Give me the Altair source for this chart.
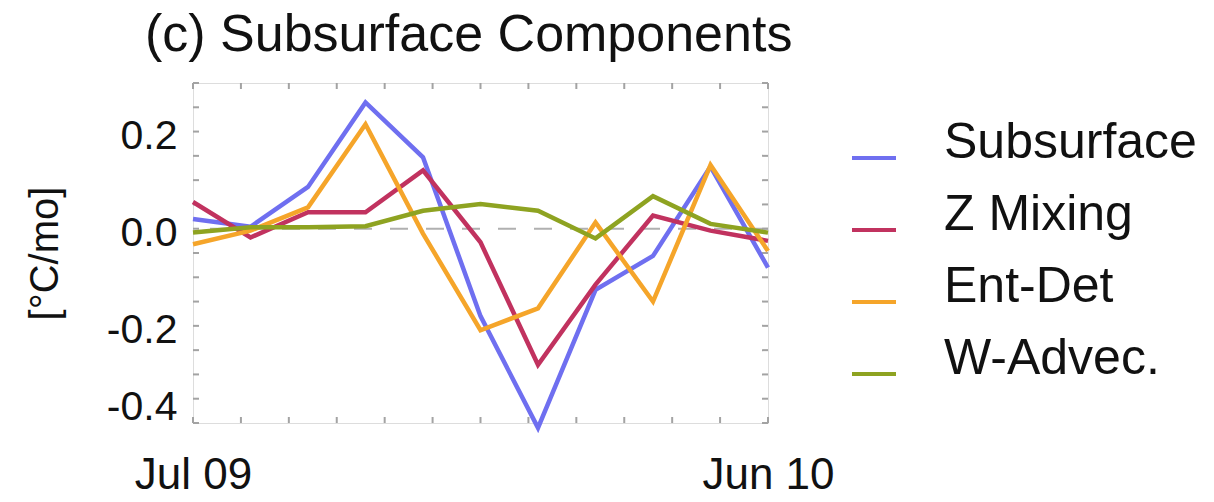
import altair as alt
import pandas as pd

# ---- data ----
step = list(range(11))  # 11 samples, Jul 09 ... Jun 10
subsurface = [0.02, 0.004, 0.086, 0.26, 0.147, -0.18, -0.41, -0.126, -0.056, 0.128, -0.08]
z_mixing = [0.055, -0.018, 0.034, 0.034, 0.12, -0.028, -0.28, -0.115, 0.027, -0.004, -0.025]
ent_det = [-0.032, -0.004, 0.044, 0.215, -0.01, -0.209, -0.164, 0.013, -0.15, 0.131, -0.046]
w_advec = [-0.008, 0.003, 0.003, 0.005, 0.037, 0.051, 0.037, -0.02, 0.067, 0.01, -0.008]

series_names = ["Subsurface", "Z Mixing", "Ent-Det", "W-Advec."]
series_colors = ["#6f6ff0", "#c1325f", "#f5a52a", "#8ea321"]
y_tick_labels = [-0.4, -0.2, 0.0, 0.2]
y_minor = [-0.4, -0.35, -0.3, -0.25, -0.2, -0.15, -0.1, -0.05, 0.0, 0.05, 0.1, 0.15, 0.2, 0.25, 0.3]
x_minor = [i * 10 / 12 for i in range(13)]

rows = []
for name, vals in zip(series_names, [subsurface, z_mixing, ent_det, w_advec]):
    for i, v in zip(step, vals):
        rows.append({"step": i, "value": v, "series": name, "order": series_names.index(name)})
df = pd.DataFrame(rows)

W, H = 575, 340
FONT = "Liberation Sans"
FRAME = "#a3a3a3"

xscale = alt.Scale(domain=[0, 10], nice=False, zero=False)
yscale = alt.Scale(domain=[-0.4, 0.3], nice=False, zero=False)

label_expr = "datum.value == 0 ? 'Jul 09' : 'Jun 10'"
xaxis = alt.Axis(
    values=[0, 10], labelExpr=label_expr, grid=False, ticks=False, domain=False,
    labelFontSize=44, labelPadding=30, labelFlush=False, title=None,
    labelFont=FONT, labelColor="#111",
)
yaxis = alt.Axis(
    values=y_tick_labels,
    labelExpr="replace(format(datum.value, '.1f'), '\u2212', '-')",
    grid=False, ticks=False, domain=False, labelFlush=True,
    labelFontSize=41, labelPadding=16, labelFont=FONT, labelColor="#111",
    labelOffset=5,
    title="[°C/mo]", titleFontSize=40, titleFont=FONT, titleFontWeight="normal",
    titleColor="#111", titleX=-148, titleY=170, titleAngle=-90,
    titleBaseline="middle", titleAlign="center",
)

zero = alt.Chart(pd.DataFrame({"z": [0.0]})).mark_rule(
    color="#b0b0b0", strokeWidth=2, strokeDash=[18, 18]
).encode(y=alt.Y("z:Q", scale=yscale, axis=yaxis))

lines = alt.Chart(df).mark_line(strokeWidth=4.5).encode(
    x=alt.X("step:Q", scale=xscale, axis=xaxis),
    y=alt.Y("value:Q", scale=yscale, axis=yaxis),
    color=alt.Color(
        "series:N",
        scale=alt.Scale(domain=series_names, range=series_colors),
        legend=alt.Legend(
            title=None, orient="none", legendX=656, legendY=50,
            symbolType="stroke", symbolSize=1936, symbolStrokeWidth=4,
            labelFontSize=50, labelFont=FONT, labelColor="#111", labelLimit=0,
            labelOffset=45, rowPadding=22, labelBaseline="alphabetic", padding=0,
        ),
    ),
    order=alt.Order("order:Q"),
    detail="series:N",
)

xt = pd.DataFrame({"step": x_minor})
yt = pd.DataFrame({"value": y_minor})
tick_style = dict(color=FRAME, strokeWidth=2)
xb = alt.Chart(xt).mark_rule(**tick_style).encode(
    x=alt.X("step:Q", scale=xscale, axis=xaxis), y=alt.value(H), y2=alt.value(H - 6))
xtop = alt.Chart(xt).mark_rule(**tick_style).encode(
    x=alt.X("step:Q", scale=xscale, axis=xaxis), y=alt.value(0), y2=alt.value(6))
yl = alt.Chart(yt).mark_rule(**tick_style).encode(
    y=alt.Y("value:Q", scale=yscale, axis=yaxis), x=alt.value(0), x2=alt.value(6))
yr = alt.Chart(yt).mark_rule(**tick_style).encode(
    y=alt.Y("value:Q", scale=yscale, axis=yaxis), x=alt.value(W), x2=alt.value(W - 6))

chart = alt.layer(zero, xb, xtop, yl, yr, lines).properties(
    width=W, height=H,
    padding={"left": 193, "top": 83, "right": 446, "bottom": 79},
    autosize=alt.AutoSizeParams(type="none"),
    title=alt.TitleParams(
        "(c) Subsurface Components", fontSize=52, font=FONT, fontWeight="normal",
        color="#111", anchor="start", frame="group", dx=-48, offset=20,
    ),
).configure_view(stroke=FRAME, strokeWidth=2.5).configure(background="white")

chart.save("out.html", embed_options={"renderer": "svg", "actions": False})
